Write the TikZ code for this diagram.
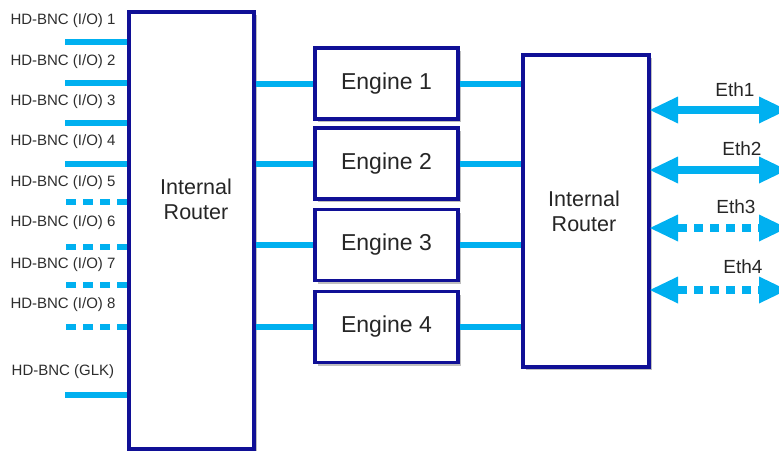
\documentclass[tikz,border=0pt]{standalone}
\usepackage{fontspec}
\setmainfont{Liberation Sans}
\usetikzlibrary{arrows.meta,shadows}
\definecolor{navy}{RGB}{16,16,150}
\definecolor{cyanline}{RGB}{0,176,240}
\definecolor{txt}{RGB}{45,45,45}
\tikzset{
  box/.style={draw=navy, line width=3.5pt, fill=white, rectangle, inner sep=0pt,
    drop shadow={shadow xshift=3pt, shadow yshift=-3pt, opacity=0.25, fill=black}},
  link/.style={draw=cyanline, line width=6pt},
  dlink/.style={link, dash pattern=on 10pt off 7pt},
  lbl/.style={text=txt, font=\fontsize{15}{17}\selectfont, inner sep=0pt},
  big/.style={text=black!85, font=\fontsize{21.5}{24}\selectfont, align=center, inner sep=0pt},
  eng/.style={text=black!85, font=\fontsize{23}{26}\selectfont, inner sep=0pt},
  ethlbl/.style={text=black!85, font=\fontsize{19}{22}\selectfont, inner sep=0pt},
  eth/.style={draw=cyanline, line width=7.5pt,
    {Triangle[length=28pt,width=27pt,line width=0pt]}-{Triangle[length=28pt,width=27pt,line width=0pt]}},
  deth/.style={eth, dash pattern=on 9pt off 7pt}
}
\begin{document}
\begin{tikzpicture}[x=1pt,y=-1pt]
\useasboundingbox (0,0) rectangle (779,450);
\clip (0,0) rectangle (779,450);

% left router
\node[box, minimum width=125pt, minimum height=437pt, anchor=north west] (lr) at (127,10) {};
\node[big] (lrt) at (196,199) {Internal\\[1pt]Router};

% engines
\foreach \i/\y in {1/83.5,2/163.5,3/245,4/327}{
  \node[box, minimum width=143pt, minimum height=71pt] (e\i) at (386.5,\y) {};
  \node[eng] (e\i t) at (e\i) {Engine\ \i};
}

% right router
\node[box, minimum width=126pt, minimum height=312pt, anchor=north west] (rr) at (521,53) {};
\node[big] (rrt) at (584,211) {Internal\\[1pt]Router};

% engine links
\foreach \i in {1,2,3,4}{
  \draw[link] (e\i.west -| lr.east) -- (e\i.west);
  \draw[link] (e\i.east) -- (e\i.east -| rr.west);
}

% left inputs
\foreach \i/\y/\ly/\d in {1/42/21/link,2/83/62/link,3/123/102/link,4/164/142/link,
                          5/202/183/dlink,6/247/223/dlink,7/285/265/dlink,8/327/305/dlink}{
  \node[lbl] (l\i) at (63,\ly) {HD-BNC (I/O) \i};
  \coordinate (p\i) at (65,\y);
  \draw[\d] (p\i -| lr.west) -- (p\i);
}
\node[lbl] (lg) at (63,372) {HD-BNC (GLK)};
\coordinate (pg) at (65,395);
\draw[link] (pg -| lr.west) -- (pg);

% ethernet
\foreach \i/\y/\lx/\ly/\s in {1/110/735/90/eth,2/170/742/149/eth,3/228/736/207/deth,4/290/743/267/deth}{
  \coordinate (a\i) at (650,\y);
  \coordinate (b\i) at (787,\y);
  \draw[\s] (a\i) -- (b\i);
  \node[ethlbl] (t\i) at (\lx,\ly) {Eth\i};
}
\end{tikzpicture}
\end{document}
